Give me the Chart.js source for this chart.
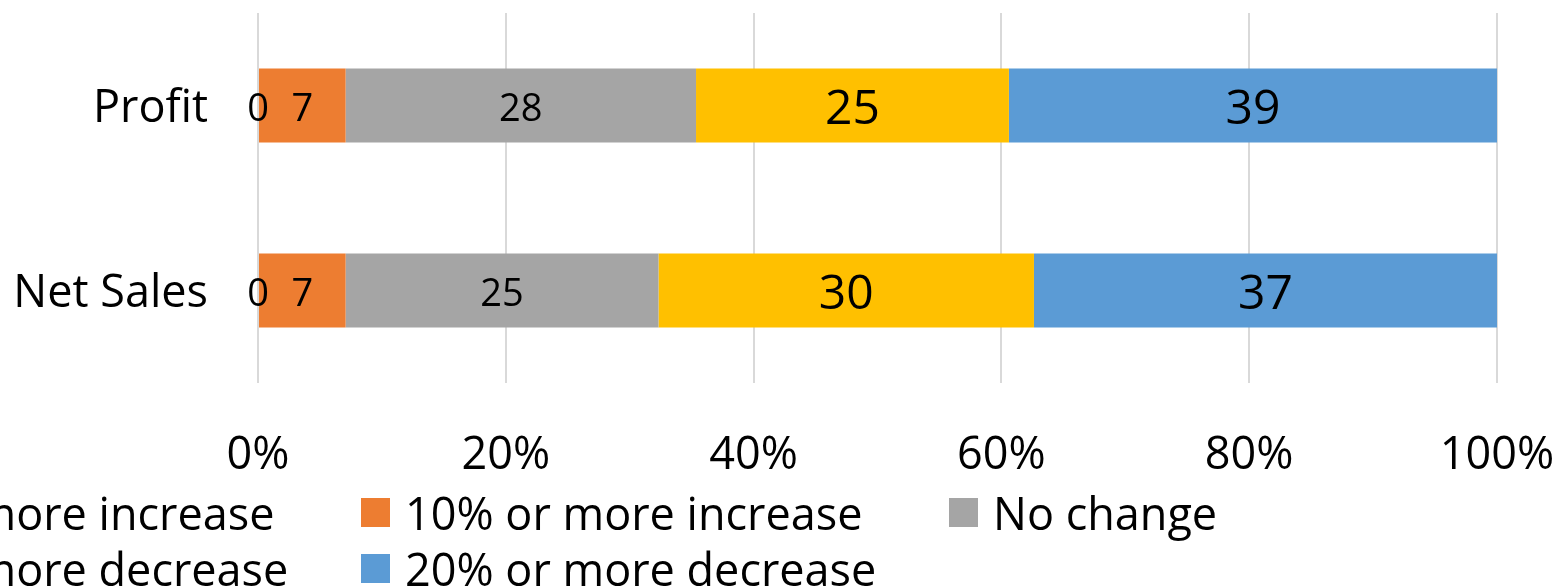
<!DOCTYPE html>
<html>
<head>
<meta charset="utf-8">
<script src="https://cdn.jsdelivr.net/npm/chart.js@4/dist/chart.umd.min.js"></script>
<style>
  html, body { margin: 0; padding: 0; background: #ffffff; overflow: hidden; width: 1568px; height: 587px; }
  #wrap { position: relative; width: 1568px; height: 587px; overflow: hidden; }
  canvas { position: absolute; left: 0; top: 0; }
  .lg { position: absolute; display: flex; align-items: center; white-space: nowrap;
        font-family: "Open Sans", sans-serif; font-size: 45px; color: #000; height: 50px; }
  .lg .box { width: 29px; height: 29px; margin-right: 15px; flex: none; }
</style>
</head>
<body>
<div id="wrap">
  <canvas id="c" width="1568" height="587"></canvas>
  <div id="legend"></div>
</div>
<script>
// Survey categories and the share of responses in each band
const categories = ["Profit", "Net Sales"];
const seriesNames = ["20% or more increase", "10% or more increase", "No change", "10% or more decrease", "20% or more decrease"];
const increase20 = [0, 0];
const increase10 = [7, 7];
const noChange = [28, 25];
const decrease10 = [25, 30];
const decrease20 = [39, 37];
const tickLabels = ["0%", "20%", "40%", "60%", "80%", "100%"];

const seriesColors = ["#4472C4", "#ED7D31", "#A5A5A5", "#FFC000", "#5B9BD5"];
const labelSizes = [38, 38, 38, 48, 48];

const rawSeries = [increase20, increase10, noChange, decrease10, decrease20];
const totals = categories.map((_, i) => rawSeries.reduce((s, arr) => s + arr[i], 0));

const datasets = rawSeries.map((arr, k) => ({
  label: seriesNames[k],
  data: arr.map((v, i) => v / totals[i] * 100),
  raw: arr,
  backgroundColor: seriesColors[k],
  borderWidth: 0,
  barPercentage: 0.4,
  categoryPercentage: 1.0
}));

// Value labels drawn at the centre of each segment
const valueLabels = {
  id: "valueLabels",
  afterDatasetsDraw(chart) {
    const ctx = chart.ctx;
    ctx.save();
    ctx.fillStyle = "#000";
    ctx.textAlign = "center";
    ctx.textBaseline = "middle";
    chart.data.datasets.forEach((ds, k) => {
      const meta = chart.getDatasetMeta(k);
      ctx.font = labelSizes[k] + 'px "Open Sans", sans-serif';
      meta.data.forEach((el, i) => {
        const cx = (el.x + el.base) / 2;
        ctx.fillText(String(ds.raw[i]), cx, el.y + 5);
      });
    });
    ctx.restore();
  }
};

// Plot area: x from 258 to 1497, y from 13 to 383
const plotBox = { left: 258, right: 1497, top: 13, bottom: 383 };

new Chart(document.getElementById("c"), {
  type: "bar",
  data: { labels: categories, datasets },
  plugins: [valueLabels],
  options: {
    indexAxis: "y",
    responsive: false,
    animation: false,
    devicePixelRatio: 1,
    layout: { padding: { top: plotBox.top, right: 1568 - plotBox.right, bottom: 0, left: 0 } },
    plugins: { legend: { display: false }, tooltip: { enabled: false } },
    scales: {
      y: {
        stacked: true,
        grid: { display: false, drawTicks: false },
        border: { display: false },
        ticks: { color: "#000", font: { family: "Open Sans", size: 45 }, padding: 50, labelOffset: 4 },
        afterFit(scale) {
          scale.width = plotBox.left;
          scale.paddingTop = 0; scale.paddingBottom = 0;
        }
      },
      x: {
        stacked: true,
        min: 0,
        max: 100,
        grid: { color: "#d9d9d9", lineWidth: 2, drawTicks: false },
        border: { display: false },
        ticks: {
          stepSize: 20,
          color: "#000",
          font: { family: "Open Sans", size: 45 },
          padding: 46,
          maxRotation: 0,
          callback: (v) => tickLabels[Math.round(v / 20)]
        },
        afterFit(scale) {
          scale.height = 587 - plotBox.bottom;
          scale.paddingLeft = 0; scale.paddingRight = 0;
        }
      }
    }
  },
});

// Legend laid out in a three-column grid below the axis
const legendSlots = [
  { k: 0, col: 0, row: 0 }, { k: 1, col: 1, row: 0 }, { k: 2, col: 2, row: 0 },
  { k: 3, col: 0, row: 1 }, { k: 4, col: 1, row: 1 }
];
const legend = document.getElementById("legend");
legendSlots.forEach(s => {
  const item = document.createElement("div");
  item.className = "lg";
  item.style.left = (-227 + s.col * 588) + "px";
  item.style.top = (487 + s.row * 56) + "px";
  const box = document.createElement("span");
  box.className = "box";
  box.style.background = seriesColors[s.k];
  const txt = document.createElement("span");
  txt.textContent = seriesNames[s.k];
  item.appendChild(box);
  item.appendChild(txt);
  legend.appendChild(item);
});
</script>
</body>
</html>
